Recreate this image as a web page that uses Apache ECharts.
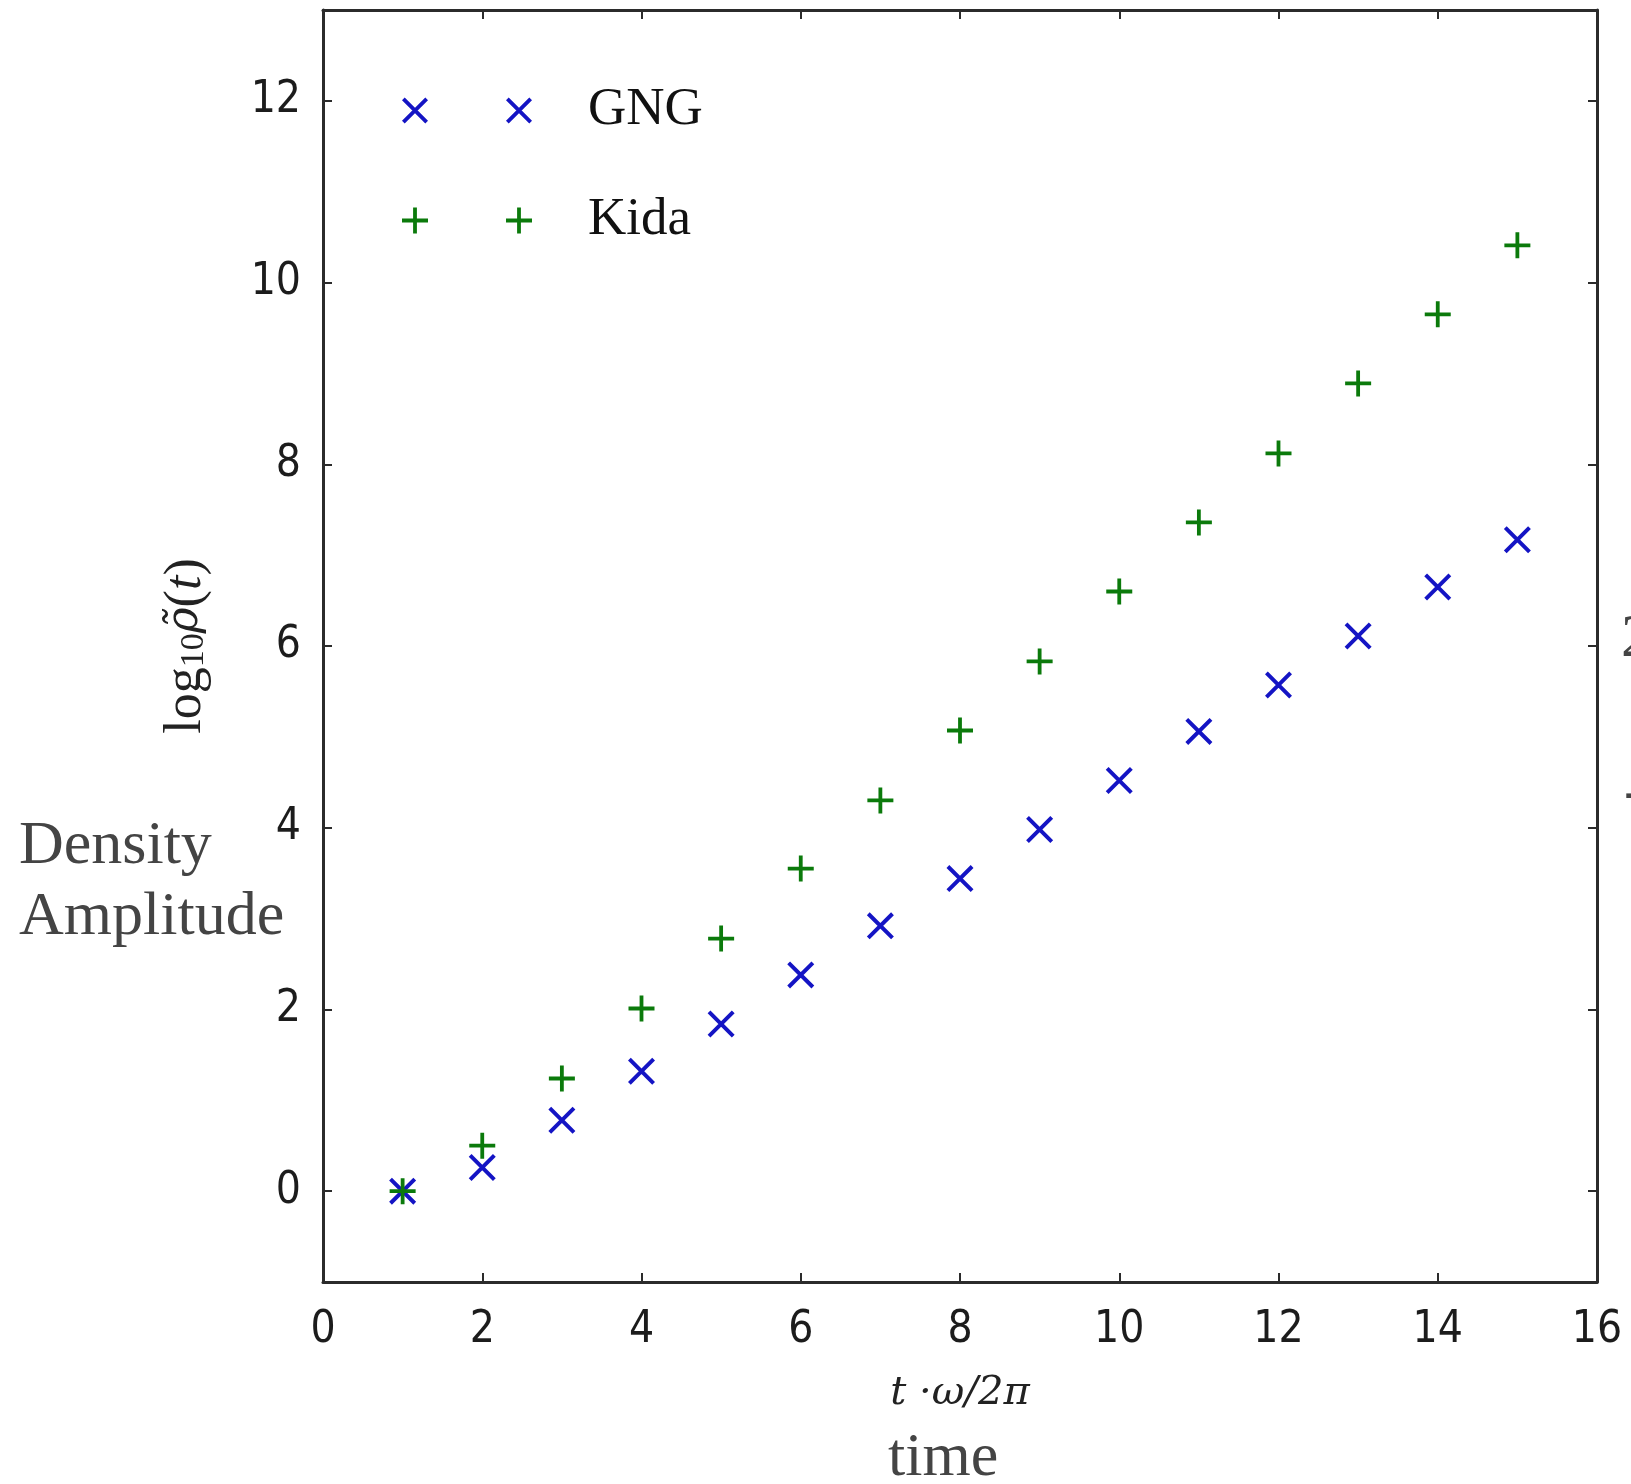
<!DOCTYPE html>
<html>
<head>
<meta charset="utf-8">
<script src="https://cdn.jsdelivr.net/npm/echarts@6/dist/echarts.min.js"></script>
<style>
html,body{margin:0;padding:0;background:#fff;}
#chart{width:1631px;height:1484px;}
</style>
</head>
<body>
<div id="chart"></div>
<script>
// ---- data ----
const timeSteps = [1,2,3,4,5,6,7,8,9,10,11,12,13,14,15];
const gngValues = [0.00,0.26,0.78,1.32,1.84,2.38,2.92,3.44,3.98,4.52,5.06,5.57,6.11,6.65,7.17];
const kidaValues = [0.00,0.50,1.24,2.01,2.78,3.55,4.30,5.07,5.83,6.60,7.36,8.12,8.89,9.65,10.41];
const seriesNames = ['GNG','Kida'];
const yTickValues = [0,2,4,6,8,10,12];
const xAxisRange = [0,16];
const yAxisRange = [-1,13];

// ---- marker shapes ----
function xShape(cx, cy, h, w){
  const a = w / Math.SQRT2;
  const p = (pts)=> 'M' + pts.map(q=>q[0].toFixed(2)+','+q[1].toFixed(2)).join(' L') + ' Z';
  const b1 = [[cx-h+a,cy-h-a],[cx+h+a,cy+h-a],[cx+h-a,cy+h+a],[cx-h-a,cy-h+a]];
  const b2 = [[cx+h+a,cy-h+a],[cx-h+a,cy+h+a],[cx-h-a,cy+h-a],[cx+h-a,cy-h-a]];
  return p(b1) + ' ' + p(b2);
}
function plusShape(cx, cy, h, w){
  const p = (pts)=> 'M' + pts.map(q=>q[0].toFixed(2)+','+q[1].toFixed(2)).join(' L') + ' Z';
  const v = [[cx-w,cy-h],[cx+w,cy-h],[cx+w,cy+h],[cx-w,cy+h]];
  const hz = [[cx-h,cy-w],[cx+h,cy-w],[cx+h,cy+w],[cx-h,cy+w]];
  return p(v) + ' ' + p(hz);
}
const hw = 1.9;
const aX = hw / Math.SQRT2;
const xSymbol = 'path://' + xShape(13, 13, 13 - aX, hw);
const plusSymbol = 'path://' + plusShape(13, 13, 13, hw);
const xLegendIcon = 'path://' + xShape(13, 13, 13 - aX, hw) + ' ' + xShape(117, 13, 13 - aX, hw);
const plusLegendIcon = 'path://' + plusShape(13, 13, 13, hw) + ' ' + plusShape(117, 13, 13, hw);

const blue = '#1414c4';
const green = '#0b7a0b';
const axisColor = '#2b2b2b';
const tickFont = '"DejaVu Sans Condensed", "DejaVu Sans", sans-serif';

const chart = echarts.init(document.getElementById('chart'), null, {renderer:'canvas'});
const option = {
  backgroundColor: '#ffffff',
  animation: false,
  grid: {left: 323, right: 34, top: 10, bottom: 202, containLabel: false},
  legend: {
    orient: 'vertical',
    left: 397, top: 79,
    itemWidth: 130, itemHeight: 26, itemGap: 57,
    data: [{name: seriesNames[0], icon: xLegendIcon}, {name: seriesNames[1], icon: plusLegendIcon}],
    textStyle: {fontFamily: '"Liberation Serif", serif', fontSize: 53, color: '#111', padding: [0,0,0,51]}
  },
  xAxis: [{
    type: 'value', position: 'bottom', min: xAxisRange[0], max: xAxisRange[1], interval: 2,
    name: 't ·ω/2π', nameLocation: 'middle', nameGap: 92,
    nameTextStyle: {fontFamily: '"DejaVu Serif", serif', fontStyle: 'italic', fontSize: 40, color: '#222'},
    axisLine: {show: true, onZero: false, lineStyle: {color: axisColor, width: 3}},
    axisTick: {show: true, inside: true, length: 9, lineStyle: {color: axisColor, width: 2}},
    axisLabel: {show: true, margin: 27, fontFamily: tickFont, fontSize: 44, color: '#1c1c1c'},
    splitLine: {show: false}
  }, {
    type: 'value', position: 'top', min: xAxisRange[0], max: xAxisRange[1], interval: 2,
    axisLine: {show: true, onZero: false, lineStyle: {color: axisColor, width: 3}},
    axisTick: {show: true, inside: true, length: 9, lineStyle: {color: axisColor, width: 2}},
    axisLabel: {show: false}, splitLine: {show: false}
  }],
  yAxis: [{
    type: 'value', position: 'left', min: yAxisRange[0], max: yAxisRange[1],
    name: '{n|log}{s|10}{r|ρ̃}{n|(}{i|t}{n|)}', nameLocation: 'middle', nameGap: 111,
    nameTextStyle: {
      color: '#222',
      rich: {
        n: {fontFamily: '"Liberation Serif", serif', fontSize: 52, color: '#222'},
        s: {fontFamily: '"Liberation Serif", serif', fontSize: 34, color: '#222', padding: [16,0,0,0]},
        r: {fontFamily: '"DejaVu Serif", serif', fontStyle: 'italic', fontSize: 44, color: '#222'},
        i: {fontFamily: '"Liberation Serif", serif', fontStyle: 'italic', fontSize: 52, color: '#222'}
      }
    },
    axisLine: {show: true, onZero: false, lineStyle: {color: axisColor, width: 3}},
    axisTick: {show: true, inside: true, length: 9, customValues: yTickValues, lineStyle: {color: axisColor, width: 2}},
    axisLabel: {show: true, margin: 22, customValues: yTickValues, fontFamily: tickFont, fontSize: 44, color: '#1c1c1c'},
    splitLine: {show: false}
  }, {
    type: 'value', position: 'right', min: yAxisRange[0], max: yAxisRange[1],
    axisLine: {show: true, onZero: false, lineStyle: {color: axisColor, width: 3}},
    axisTick: {show: true, inside: true, length: 9, customValues: yTickValues, lineStyle: {color: axisColor, width: 2}},
    axisLabel: {show: false}, splitLine: {show: false}
  }],
  series: [{
    name: seriesNames[0], type: 'scatter', xAxisIndex: 0, yAxisIndex: 0,
    symbol: xSymbol, symbolSize: 27,
    itemStyle: {color: blue, opacity: 1},
    data: timeSteps.map((t,i)=>[t, gngValues[i]]),
    z: 3
  }, {
    name: seriesNames[1], type: 'scatter', xAxisIndex: 0, yAxisIndex: 0,
    symbol: plusSymbol, symbolSize: 26,
    itemStyle: {color: green, opacity: 1},
    data: timeSteps.map((t,i)=>[t, kidaValues[i]]),
    z: 4
  }],
  graphic: [
    {type: 'text', left: 19, top: 816, style: {text: 'Density', font: '62px "Liberation Serif", serif', fill: '#444'}},
    {type: 'text', left: 19, top: 887, style: {text: 'Amplitude', font: '62px "Liberation Serif", serif', fill: '#444'}},
    {type: 'text', left: 888, top: 1428, style: {text: 'time', font: '62px "Liberation Serif", serif', fill: '#444'}},
    {type: 'text', left: 1621, top: 609, style: {text: '2', font: '62px "Liberation Serif", serif', fill: '#444'}},
    {type: 'text', left: 1624, top: 763, style: {text: '-', font: '62px "Liberation Serif", serif', fill: '#444'}}
  ]
};
chart.setOption(option);
</script>
</body>
</html>
